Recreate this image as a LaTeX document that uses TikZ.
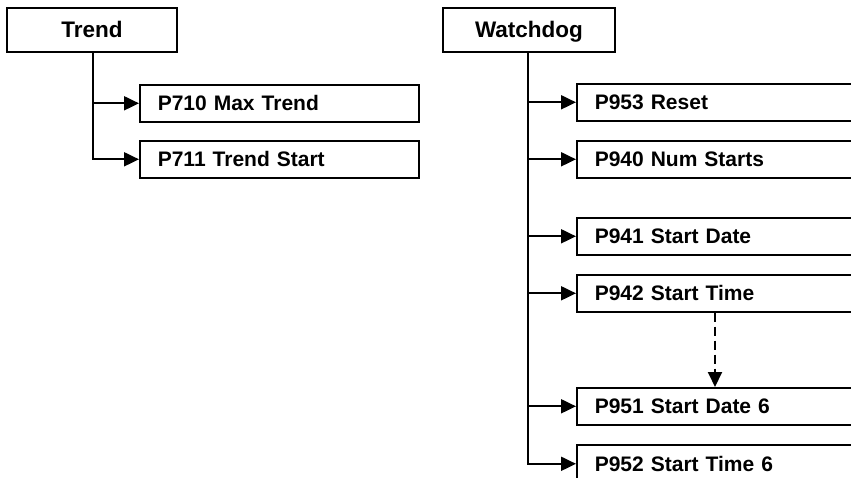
\documentclass[tikz,border=0pt]{standalone}
\usepackage{fontspec}
\setmainfont{Liberation Sans}
\usetikzlibrary{arrows.meta,calc}
\begin{document}
\begin{tikzpicture}[x=1pt,y=-1pt,
  hdr/.style={draw, line width=1.6pt, inner sep=0pt, minimum height=44pt,
    text height=16pt, text depth=0pt,
    font=\fontsize{22.5}{26}\selectfont\bfseries},
  item/.style={draw, line width=1.6pt, anchor=north west, inner xsep=18pt, inner ysep=0pt,
    minimum height=37pt, align=left, font=\fontsize{21}{24}\selectfont\bfseries},
  conn/.style={line width=2pt, -{Triangle[length=15pt,width=14pt]}},
]
\useasboundingbox (0,0) rectangle (851,478);
\clip (0,0) rectangle (851,478);
% Trend
\node[hdr, minimum width=170pt] (trend) at (92,30) {Trend};
\node[item, text width=243pt] (p710) at (139,84) {P710 Max Trend};
\node[item, text width=243pt] (p711) at (139,140) {P711 Trend Start};
\draw[conn] ($(trend.south)+(1,0)$) |- (p710.west);
\draw[conn] ($(trend.south)+(1,0)$) |- (p711.west);
% Watchdog
\node[hdr, minimum width=172pt] (wd) at (529,30) {Watchdog};
\node[item, text width=300pt] (p953) at (576,83) {P953 Reset};
\node[item, text width=300pt] (p940) at (576,140) {P940 Num Starts};
\node[item, text width=300pt] (p941) at (576,217) {P941 Start Date};
\node[item, text width=300pt] (p942) at (576,274) {P942 Start Time};
\node[item, text width=300pt] (p951) at (576,387) {P951 Start Date 6};
\node[item, text width=300pt, minimum height=38pt] (p952) at (576,444) {P952 Start Time 6};
\foreach \t in {p953,p940,p941,p942,p951,p952}
  \draw[conn] ($(wd.south)+(-1,0)$) |- (\t.west);
\draw[line width=2pt, dash pattern=on 9pt off 5pt, -{Triangle[length=15pt,width=14pt]}]
  ($(p942.south west)+(139,0)$) -- ($(p951.north west)+(139,0)$);
\end{tikzpicture}
\end{document}
